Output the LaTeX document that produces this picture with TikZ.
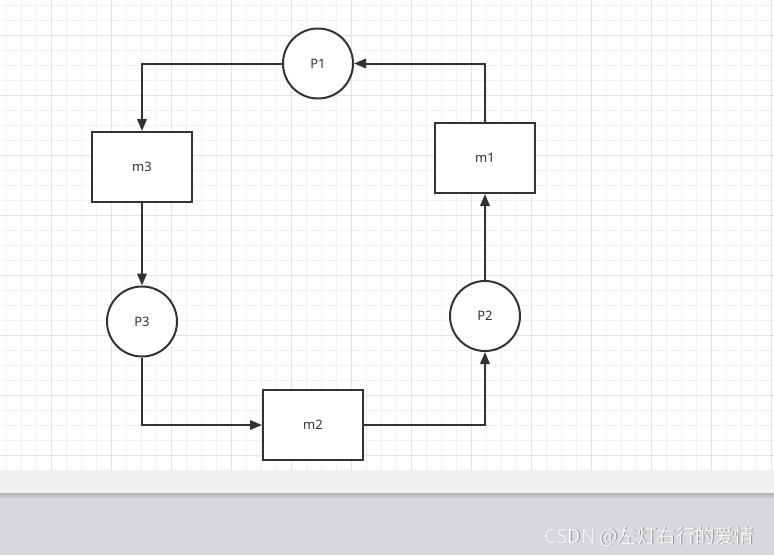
\documentclass[tikz,border=0pt]{standalone}
\usepackage{fontspec}
\setmainfont{Noto Sans}
\newfontfamily\cjkfont{Noto Sans CJK SC}
\usetikzlibrary{arrows.meta}
\definecolor{minorgrid}{HTML}{F1F1F1}
\definecolor{majorgrid}{HTML}{E3E3E3}
\definecolor{ink}{HTML}{333333}
\definecolor{bandgray}{HTML}{F0F0F0}
\definecolor{basegray}{HTML}{D6D8DD}
\definecolor{shadowgray}{HTML}{B4B4B6}
\definecolor{wmedge}{HTML}{8E8E90}
\tikzset{
  place/.style={circle, draw=ink, line width=2pt, fill=white, minimum size=70pt, inner sep=0pt,
    font=\fontsize{13}{15}\selectfont, text=ink},
  trans/.style={rectangle, draw=ink, line width=2pt, fill=white, minimum width=100pt, minimum height=70pt,
    inner sep=0pt, font=\fontsize{13}{15}\selectfont, text=ink},
  flow/.style={draw=ink, line width=2pt, -{Triangle[length=12pt,width=9.5pt]}},
  wmark/.style={anchor=base east, font=\fontsize{19.5}{22}\selectfont\cjkfont},
}
\begin{document}
\begin{tikzpicture}[x=1pt,y=-1pt]
\useasboundingbox (0,0) rectangle (774,555);
\fill[white] (0,0) rectangle (774,470);
% minor grid
\foreach \i in {0,...,51} {\draw[minorgrid, line width=1pt] (6.7+15*\i,0) -- (6.7+15*\i,470);}
\foreach \j in {0,...,31} {\draw[minorgrid, line width=1pt] (0,5+15*\j) -- (774,5+15*\j);}
% major grid
\foreach \i in {0,...,12} {\draw[majorgrid, line width=1pt] (51.7+60*\i,0) -- (51.7+60*\i,470);}
\foreach \j in {0,...,7} {\draw[majorgrid, line width=1pt] (0,35+60*\j) -- (774,35+60*\j);}
% bottom bands
\fill[bandgray] (0,470) rectangle (774,493);
\fill[basegray] (0,493) rectangle (774,555);
\shade[top color=shadowgray, bottom color=basegray] (0,493) rectangle (774,499);
% nodes
\node[place] (P1) at (318,63.5) {P1};
\node[trans] (m3) at (142,167) {m3};
\node[trans] (m1) at (485,158) {m1};
\node[place] (P3) at (142,321.5) {P3};
\node[trans] (m2) at (313,425) {m2};
\node[place] (P2) at (485,316) {P2};
% connectors
\draw[flow] (m1.north) |- (P1.east);
\draw[flow] (P1.west) -| (m3.north);
\draw[flow] (m3.south) -- (P3.north);
\draw[flow] (P3.south) |- (m2.west);
\draw[flow] (m2.east) -| (P2.south);
\draw[flow] (P2.north) -- (m1.south);
% watermark
\node[wmark, text=wmedge] (wmshadow) at (758.8,543.8) {CSDN @左灯右行的爱情};
\node[wmark, text=white!97!black] (wm) at (758,543) {CSDN @左灯右行的爱情};
\end{tikzpicture}
\end{document}
